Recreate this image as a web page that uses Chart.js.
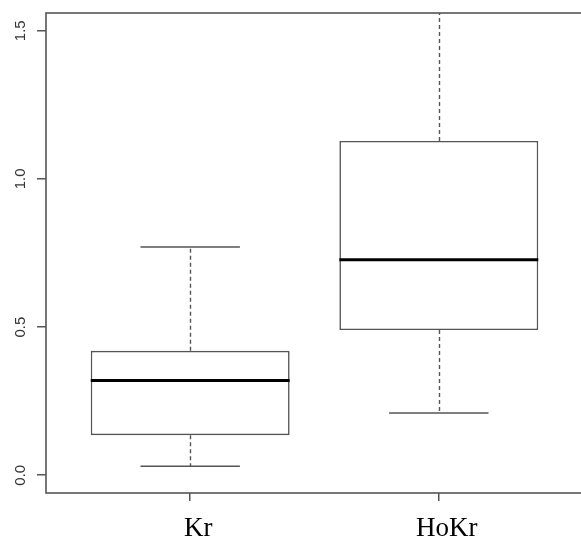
<!DOCTYPE html>
<html>
<head>
<meta charset="utf-8">
<script src="https://cdn.jsdelivr.net/npm/chart.js@4"></script>
<style>
  html, body { margin: 0; padding: 0; background: #fff; overflow: hidden; }
  #wrap { position: relative; width: 584px; height: 541px; }
</style>
</head>
<body>
<div id="wrap"><canvas id="chart"></canvas></div>
<script>
// box plot data
const groups = ['Kr', 'HoKr'];
const whiskerLow = [0.03, 0.21];
const q1 = [0.135, 0.49];
const medians = [0.32, 0.727];
const q3 = [0.42, 1.128];
const whiskerHigh = [0.77, 1.6];
const yTicks = [0, 0.5, 1.0, 1.5];
const yTickLabels = ['0.0', '0.5', '1.0', '1.5'];

const lineColor = '#555';

// whiskers, caps, medians, frame and rotated y labels
const boxplotPlugin = {
  id: 'boxplot',
  afterDatasetsDraw(chart) {
    const { ctx, chartArea, scales: { x, y } } = chart;
    ctx.save();
    ctx.beginPath();
    ctx.rect(chartArea.left, chartArea.top, chartArea.right - chartArea.left, chartArea.bottom - chartArea.top);
    ctx.clip();
    groups.forEach((g, i) => {
      const cx = Math.round(x.getPixelForValue(i + 1)) + 0.5;
      const capL = x.getPixelForValue(i + 1 - 0.2);
      const capR = x.getPixelForValue(i + 1 + 0.2);
      const boxL = x.getPixelForValue(i + 1 - 0.4);
      const boxR = x.getPixelForValue(i + 1 + 0.4);

      ctx.strokeStyle = lineColor;
      ctx.lineWidth = 1.4;
      ctx.setLineDash([4, 3]);
      ctx.beginPath();
      ctx.moveTo(cx, y.getPixelForValue(q3[i]));
      ctx.lineTo(cx, y.getPixelForValue(whiskerHigh[i]));
      ctx.moveTo(cx, y.getPixelForValue(q1[i]));
      ctx.lineTo(cx, y.getPixelForValue(whiskerLow[i]));
      ctx.stroke();

      ctx.setLineDash([]);
      ctx.lineWidth = 1.5;
      ctx.beginPath();
      ctx.moveTo(capL, y.getPixelForValue(whiskerHigh[i]));
      ctx.lineTo(capR, y.getPixelForValue(whiskerHigh[i]));
      ctx.moveTo(capL, y.getPixelForValue(whiskerLow[i]));
      ctx.lineTo(capR, y.getPixelForValue(whiskerLow[i]));
      ctx.stroke();

      // median
      ctx.strokeStyle = '#000';
      ctx.lineWidth = 3;
      ctx.beginPath();
      ctx.moveTo(boxL, y.getPixelForValue(medians[i]));
      ctx.lineTo(boxR, y.getPixelForValue(medians[i]));
      ctx.stroke();
    });
    ctx.restore();

    // frame
    ctx.save();
    ctx.strokeStyle = lineColor;
    ctx.lineWidth = 1.6;
    ctx.strokeRect(chartArea.left, chartArea.top, chartArea.right - chartArea.left, chartArea.bottom - chartArea.top);

    // y labels, rotated like R
    ctx.fillStyle = '#333';
    ctx.font = '15px "Liberation Sans", Arial, sans-serif';
    ctx.textAlign = 'center';
    ctx.textBaseline = 'alphabetic';
    yTicks.forEach((v, i) => {
      ctx.save();
      ctx.translate(24.5, y.getPixelForValue(v));
      ctx.rotate(-Math.PI / 2);
      ctx.fillText(yTickLabels[i], 0, 0);
      ctx.restore();
    });
    ctx.restore();
  }
};

const boxData = groups.map((g, i) => ({ x: i + 1, y: [q1[i], q3[i]] }));

new Chart(document.getElementById('chart'), {
  type: 'bar',
  data: {
    datasets: [{
      data: boxData,
      backgroundColor: '#fff',
      borderColor: lineColor,
      borderWidth: 1.6,
      borderSkipped: false,
      barPercentage: 0.8,
      categoryPercentage: 1
    }]
  },
  options: {
    responsive: true,
    maintainAspectRatio: false,
    animation: false,
    layout: { padding: { top: 13, right: 1, left: 0, bottom: 0 } },
    plugins: { legend: { display: false }, tooltip: { enabled: false } },
    scales: {
      x: {
        type: 'linear',
        offset: false,
        min: 0.42,
        max: 2.58,
        afterBuildTicks: (s) => { s.ticks = groups.map((g, i) => ({ value: i + 1 })); },
        afterFit: (s) => { s.height = 48; },
        ticks: {
          autoSkip: false,
          maxRotation: 0,
          labelOffset: 8,
          padding: 12,
          color: '#000',
          font: { family: '"Liberation Serif", "Times New Roman", serif', size: 27 },
          callback: (v) => groups[v - 1]
        },
        grid: { offset: false, drawOnChartArea: false, drawTicks: true, tickLength: 8, color: lineColor, lineWidth: 1.5 },
        border: { display: false }
      },
      y: {
        type: 'linear',
        min: -0.06,
        max: 1.56,
        afterBuildTicks: (s) => { s.ticks = yTicks.map(v => ({ value: v })); },
        afterFit: (s) => { s.width = 46; },
        ticks: { display: false },
        grid: { drawOnChartArea: false, drawTicks: true, tickLength: 9, color: lineColor, lineWidth: 1.5 },
        border: { display: false }
      }
    }
  },
  plugins: [boxplotPlugin]
});
</script>
</body>
</html>
